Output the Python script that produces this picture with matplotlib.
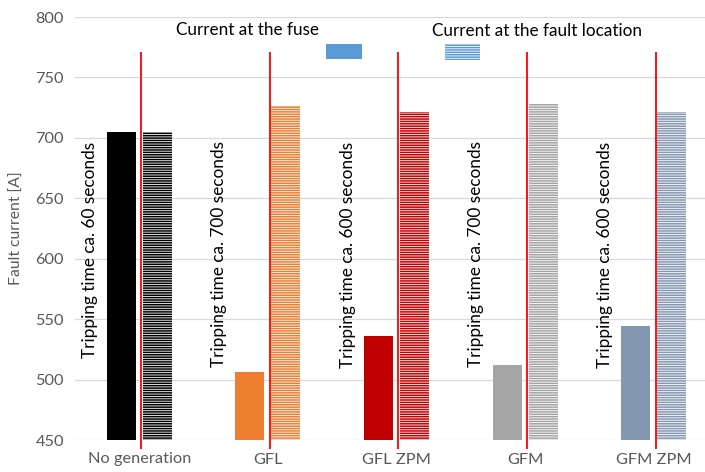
import matplotlib.pyplot as plt
from matplotlib.patches import Rectangle
import numpy as np

plt.rcParams['font.family'] = ['Lato', 'DejaVu Sans']
plt.rcParams['hatch.linewidth'] = 0.6

cases = ['No generation', 'GFL', 'GFL ZPM', 'GFM', 'GFM ZPM']
fuse_current = [705, 506, 536, 512, 544]
fault_current = [705, 726, 721, 728, 721]
trip_times = [60, 700, 600, 700, 600]
colors = ['#000000', '#ED7D31', '#C00000', '#A5A5A5', '#8497B0']

fig = plt.figure(figsize=(7.05, 4.72), dpi=100)
ax = fig.add_axes([75 / 705, 1 - 440 / 472, 643 / 705, 423 / 472])

x = np.arange(len(cases))
w = 0.225
off = 0.14

# solid bars: current at the fuse
ax.bar(x - off, np.array(fuse_current) - 450, w, bottom=450, color=colors, linewidth=0, zorder=2)
# striped bars: current at the fault location
for xi, val, c in zip(x, fault_current, colors):
    ax.bar(xi + off, val - 450, w, bottom=450, facecolor=c, edgecolor='white',
           linewidth=0, hatch='-------', zorder=2)

# red separators between fuse and fault location
ax.vlines(x + 0.015, 442.5, 771, color='#FF0000', lw=1.3, zorder=3, clip_on=False)

for xi, t in zip(x, trip_times):
    ax.text(xi - 0.38, 697, f'Tripping time ca. {t} seconds', rotation=90,
            ha='center', va='top', fontsize=12.4, color='#000000')

ax.set_xlim(-0.5, 4.5)
ax.set_ylim(450, 800)
ax.set_yticks(np.arange(450, 801, 50))
ax.set_xticks(x)
ax.set_xticklabels(cases)
ax.tick_params(length=0, labelsize=11.8, colors='#595959', pad=9)
ax.tick_params(axis='y', pad=8)
ax.grid(axis='y', color='#D9D9D9', lw=0.9, zorder=0)
for s in ax.spines.values():
    s.set_visible(False)
ax.set_ylabel('Fault current [A]', fontsize=11.3, color='#595959', labelpad=8)

# legend keys
fig.text(248 / 705, 1 - 30 / 472, 'Current at the fuse', ha='center', va='center',
         fontsize=12.3, color='#000000')
fig.text(537 / 705, 1 - 31 / 472, 'Current at the fault location', ha='center', va='center',
         fontsize=12.3, color='#000000')
fig.patches.append(Rectangle((326 / 705, 1 - 59 / 472), 36 / 705, 15 / 472,
                             transform=fig.transFigure, facecolor='#5B9BD5', linewidth=0))
fig.patches.append(Rectangle((445 / 705, 1 - 60 / 472), 35 / 705, 16 / 472,
                             transform=fig.transFigure, facecolor='#5B9BD5', edgecolor='white',
                             linewidth=0, hatch='-------'))

fig.savefig('out.png', dpi=100)
